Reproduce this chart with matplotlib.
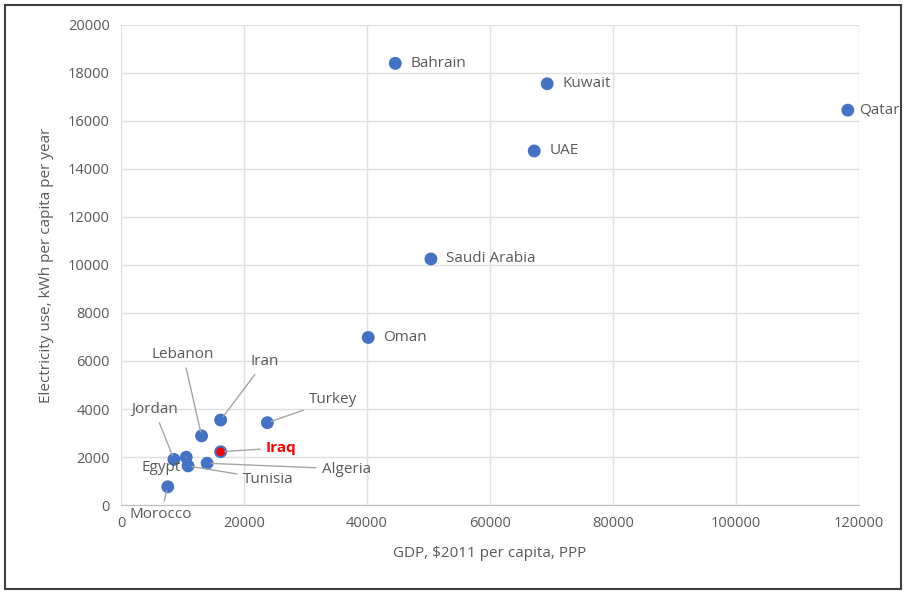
import matplotlib.pyplot as plt
from matplotlib.patches import Rectangle

# data
countries = ['Bahrain', 'Kuwait', 'Qatar', 'UAE', 'Saudi Arabia', 'Oman',
             'Turkey', 'Iran', 'Lebanon', 'Iraq', 'Jordan', 'Egypt',
             'Tunisia', 'Algeria', 'Morocco']
gdp = [44600, 69300, 118200, 67200, 50400, 40200,
       23800, 16200, 13100, 16200, 8600, 10600,
       10900, 14000, 7600]
elec = [18400, 17550, 16450, 14750, 10250, 6980,
        3430, 3540, 2880, 2220, 1900, 1990,
        1630, 1740, 760]

# label placement: simple right-hand labels for the big ones,
# leader lines for the crowded cluster near the origin
right_labels = ['Bahrain', 'Kuwait', 'Qatar', 'UAE', 'Saudi Arabia', 'Oman']
leader_pos = {
    'Lebanon': (10100, 6250),
    'Iran': (23300, 5960),
    'Turkey': (34500, 4380),
    'Iraq': (26000, 2380),
    'Jordan': (5400, 3960),
    'Egypt': (6500, 1580),
    'Tunisia': (23900, 1080),
    'Algeria': (36600, 1500),
    'Morocco': (6500, -380),
}

blue = '#4472C4'
grey = '#595959'
plt.rcParams['font.family'] = ['Open Sans', 'DejaVu Sans']

fig = plt.figure(figsize=(9.06, 5.94), dpi=100)
ax = fig.add_axes([0.1336, 0.1498, 0.8144, 0.8082])

colors = ['red' if c == 'Iraq' else blue for c in countries]
ax.scatter(gdp, elec, s=60, c=colors, edgecolors=blue, linewidths=1.5, zorder=3)

for name, x, y in zip(countries, gdp, elec):
    if name in right_labels:
        off = 8 if name == 'Qatar' else 11
        ax.annotate(name, (x, y), xytext=(off, 0), textcoords='offset points',
                    ha='left', va='center', fontsize=11, color=grey)
    else:
        is_iraq = name == 'Iraq'
        ax.annotate(name, (x, y), xytext=leader_pos[name], textcoords='data',
                    ha='center', va='center', fontsize=11,
                    color='red' if is_iraq else grey,
                    fontweight='bold' if is_iraq else 'normal',
                    annotation_clip=False,
                    arrowprops=dict(arrowstyle='-', color='#a6a6a6', lw=1,
                                    shrinkA=2, shrinkB=3))

ax.set_xlim(0, 120000)
ax.set_ylim(0, 20000)
ax.set_xticks(range(0, 120001, 20000))
ax.set_yticks(range(0, 20001, 2000))
ax.grid(color='#e0e0e0', lw=1)
ax.set_axisbelow(True)
for s in ['top', 'right', 'left']:
    ax.spines[s].set_visible(False)
ax.spines['bottom'].set_color('#bfbfbf')
ax.tick_params(length=0, labelsize=10.5, labelcolor=grey, pad=8)
ax.set_xlabel('GDP, $2011 per capita, PPP', fontsize=11, color=grey, labelpad=11)
ax.set_ylabel('Electricity use, kWh per capita per year', fontsize=11, color=grey, labelpad=10)

# outer frame
fig.patches.append(Rectangle((0.005, 0.008), 0.989, 0.984, transform=fig.transFigure,
                             fill=False, edgecolor='#404040', lw=1.5))

fig.savefig('out.png', dpi=100)
